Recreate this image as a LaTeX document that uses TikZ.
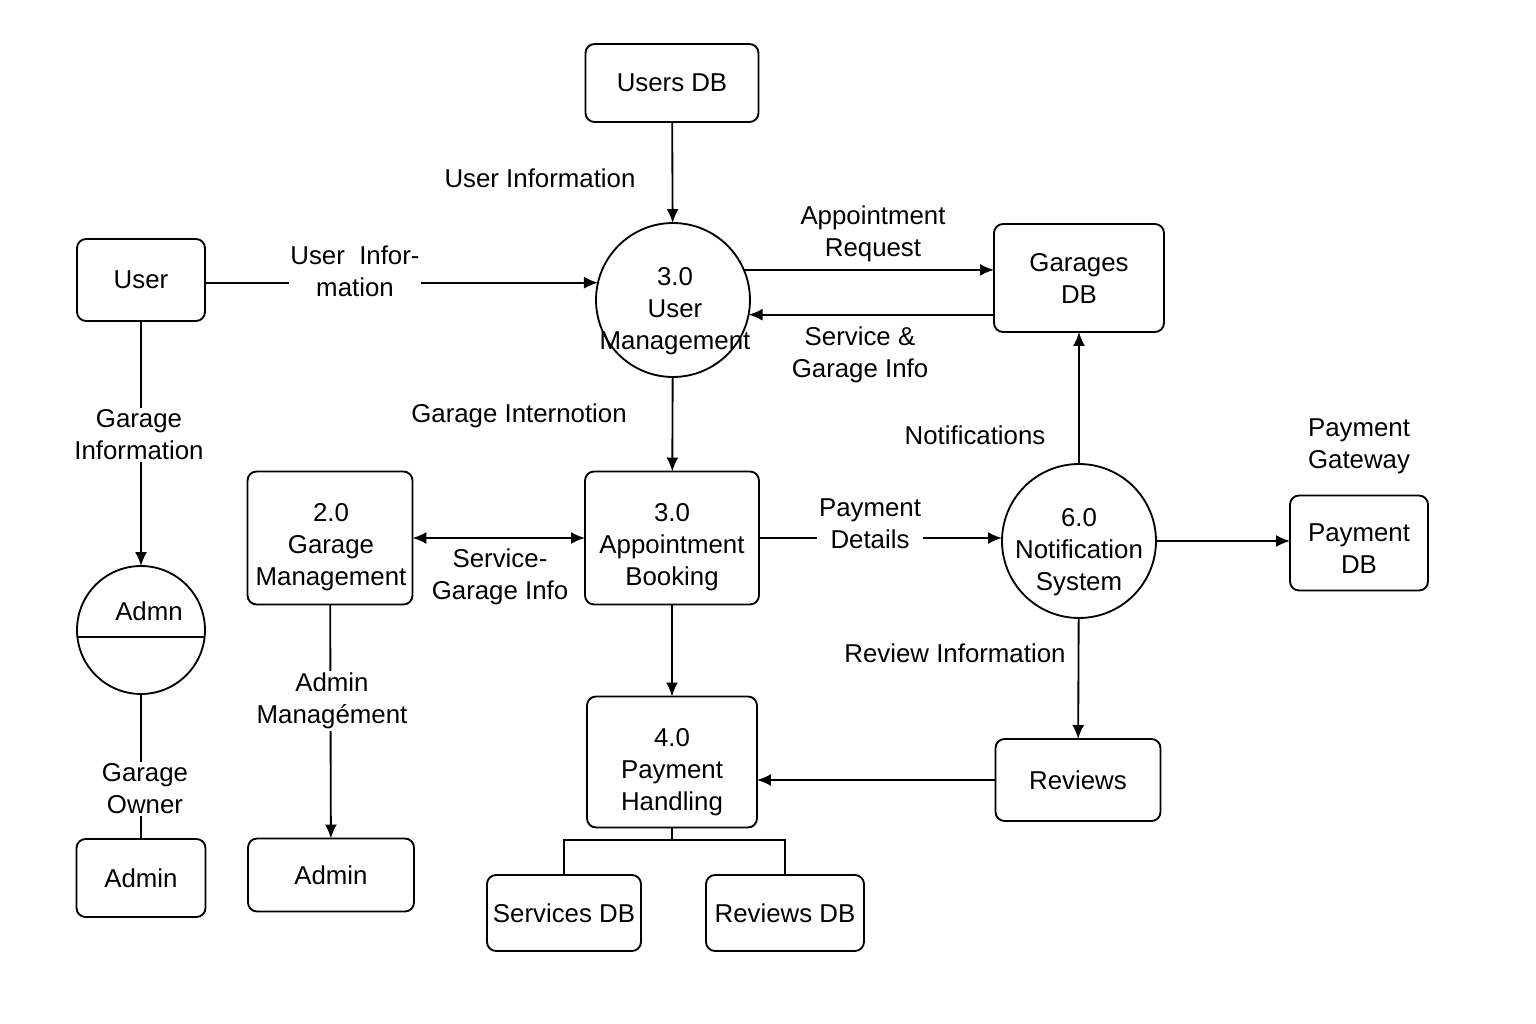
\documentclass[tikz,border=0pt]{standalone}
\usepackage{fontspec}
\setmainfont{Liberation Sans}
\usetikzlibrary{arrows.meta}

\begin{document}
\begin{tikzpicture}[x=0.02cm, y=-0.02cm, >={Latex[length=2.8mm,width=2.4mm]}, line width=1.05pt,
		font=\fontsize{14.7}{18.2}\selectfont,
		store/.style={draw, rounded corners=0.18cm, align=center, inner sep=0pt, outer sep=0pt},
		proc/.style={draw, circle, inner sep=0pt, outer sep=0pt},
		txt/.style={align=center, inner sep=0pt},
		lbl/.style={fill=white, align=center, inner sep=1pt}]
				\useasboundingbox (0,0) rectangle (1536,1024);
				\draw (672,83) node[store, minimum width=3.46cm, minimum height=1.56cm] (UDB) {Users DB};
				\draw (141,280) node[store, minimum width=2.56cm, minimum height=1.64cm] (U) {User};
				\draw (673,300) node[proc, minimum size=3.08cm] (UM) {};
				\draw (675,311) node[txt] (UMt) {3.0\\User\\Management};
				\draw (1079,278) node[store, minimum width=3.4cm, minimum height=2.16cm] (GDB) {Garages\\DB};
				\draw (330,538) node[store, minimum width=3.3cm, minimum height=2.66cm] (GM) {};
				\draw (331,547) node[txt] (GMt) {2.0\\Garage\\Management};
				\draw (672,538) node[store, minimum width=3.48cm, minimum height=2.66cm] (AB) {};
				\draw (672,547) node[txt] (ABt) {3.0\\Appointment\\Booking};
				\draw (1079,541) node[proc, minimum size=3.08cm] (NS) {};
				\draw (1079,552) node[txt] (NSt) {6.0\\Notification\\System};
				\draw (1359,543) node[store, minimum width=2.76cm, minimum height=1.9cm] (PDB) {};
				\draw (1359,549) node[txt] (PDBt) {Payment\\DB};
				\draw (141,630) node[proc, minimum size=2.56cm] (AC) {};
				\draw (149,611) node[txt] (ACt) {Admn};
				\draw (141,878) node[store, minimum width=2.58cm, minimum height=1.56cm] (AL) {Admin};
				\draw (331,875) node[store, minimum width=3.32cm, minimum height=1.46cm] (AM) {Admin};
				\draw (672,762) node[store, minimum width=3.4cm, minimum height=2.62cm] (PH) {};
				\draw (672,772) node[txt] (PHt) {4.0\\Payment\\Handling};
				\draw (1078,780) node[store, minimum width=3.3cm, minimum height=1.64cm] (R) {Reviews};
				\draw (564,913) node[store, minimum width=3.08cm, minimum height=1.52cm] (SDB) {Services DB};
				\draw (785,913) node[store, minimum width=3.16cm, minimum height=1.52cm] (RDB) {Reviews DB};
				\coordinate (J) at (672,840);
				\draw (AC.186) -- (AC.-6);

				\path[->]
				(UDB) edge (UM)
				(U.east |- UM.167) edge (UM.167)
				(UM.23) edge (GDB.west |- UM.23)
				(GDB.west |- UM.-11) edge (UM.-11)
				(UM) edge (AB)
				(U) edge (AC)
				(GM) edge[<->] (AB)
				(GM) edge (AM)
				(AB.east) edge (AB.east -| NS.west)
				(AB) edge (PH)
				(NS) edge (GDB)
				(NS.east) edge (NS.east -| PDB.west)
				(NS) edge (R)
				(R) edge (PH.east |- R.west)
				;
				\draw (AC) -- (AL);
				\draw (PH) -- (J);
				\draw (SDB.north) |- (RDB.north |- J) -- (RDB.north);

				% flow labels
				\draw (540,178) node[lbl] (l1) {User Information};
				\draw (355,271) node[lbl] (l2) {User\ \ Infor-\\mation};
				\draw (873,234) node[lbl] (l3) {Appointment\\Request};
				\draw (860,355) node[lbl] (l4) {Service \&\\Garage Info};
				\draw (519,416) node[lbl] (l5) {Garage Internotion};
				\draw (139,435) node[lbl] (l6) {Garage\\Information};
				\draw (145,789) node[lbl] (l7) {Garage\\Owner};
				\draw (500,577) node[lbl] (l8) {Service-\\Garage Info};
				\draw (332,701) node[lbl] (l9) {Admin\\Managément};
				\draw (870,524) node[lbl] (l10) {Payment\\Details};
				\draw (975,435) node[lbl] (l11) {Notifications};
				\draw (1359,446) node[lbl] (l12) {Payment\\Gateway};
				\draw (955,653) node[lbl] (l13) {Review Information};
			\end{tikzpicture}
\end{document}
